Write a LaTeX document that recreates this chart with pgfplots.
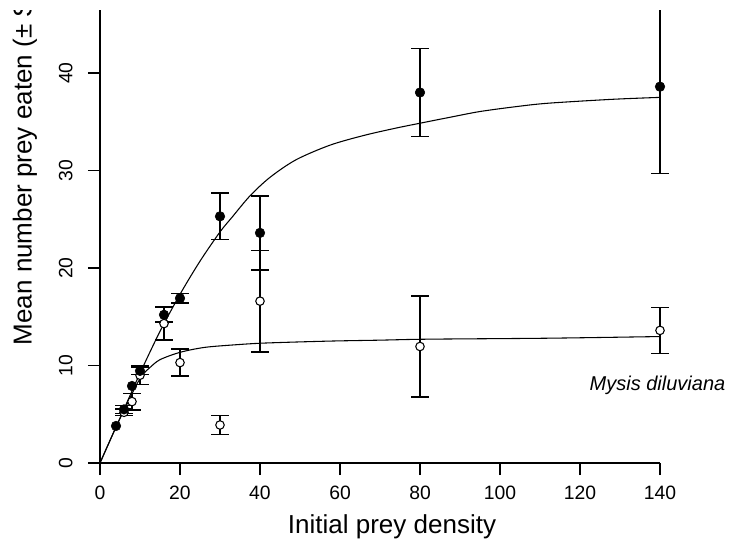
\documentclass[border=0pt]{standalone}
\usepackage{pgfplots}
\pgfplotsset{compat=1.18}
\usepackage{pgfplotstable}
\usepackage{fontspec}
\setmainfont{Liberation Sans}

\pgfplotstableread{
x y e
6 5.5 0.4
10 9.45 0.35
16 15.2 0.75
20 16.9 0.5
30 25.3 2.4
40 23.6 3.8
80 38.0 4.5
140 38.6 8.9
}\filledtab

\pgfplotstableread{
x y
4 3.8
8 7.9
}\filledplain

\pgfplotstableread{
x y e
6 5.2 0.35
8 6.3 0.85
10 9.0 0.95
16 14.3 1.7
20 10.3 1.4
30 3.9 1.0
40 16.6 5.2
80 11.95 5.2
140 13.6 2.35
}\opentab

\begin{document}
\begin{tikzpicture}
\useasboundingbox (-75pt,-60.75pt) rectangle (475.5pt,347.25pt);
\clip (-75pt,-60.75pt) rectangle (475.5pt,339.75pt);
\begin{axis}[
  at={(0pt,0pt)}, anchor=origin,
  x=3pt, y=7.3125pt,
  xmin=0, xmax=140, ymin=0, ymax=48,
  axis lines=left,
  axis line style={-, line width=1.1pt},
  clip=false,
  xtick={0,20,...,140},
  ytick={0,10,...,40},
  tick align=outside,
  major tick length=9pt,
  tick style={line width=1.1pt, black},
  /pgf/number format/assume math mode=true,
  ticklabel style={font=\fontsize{14.5}{17}\selectfont},
  xticklabel style={yshift=-5pt},
  yticklabel style={xshift=-8pt, rotate=90, anchor=south},
]
\addplot[black, smooth, line width=0.8pt, mark=none] coordinates {
(0,0) (5,4.6) (10,9.2) (15,13.5) (20,17.3) (25,20.7) (30,23.7) (33,25.2)
(37.5,27.4) (42.5,29.3) (49,31.1) (57.5,32.6) (66,33.6) (74,34.35) (80,34.85)
(88,35.5) (95,36.05) (104,36.55) (112,36.9) (128,37.3) (140,37.5)};
\addplot[black, smooth, line width=0.8pt, mark=none] coordinates {
(0,0) (4,3.7) (6,5.4) (8,7.1) (9.5,8.3) (11,9.2) (12.5,9.8) (15,10.6) (20,11.35)
(26,11.85) (33,12.1) (41,12.3) (57,12.5) (70,12.6) (82,12.7) (112,12.8) (140,12.97)};
\addplot[only marks, mark=*, mark size=3.2pt, mark options={fill=white, draw=black, line width=0.8pt},
  error bars/.cd, y dir=both, y explicit,
  error bar style={line width=1.1pt, black},
  error mark options={rotate=90, mark size=6.4pt, line width=1.1pt, black}]
  table[x=x, y=y, y error=e] {\opentab};
\addplot[only marks, mark=*, mark size=3.6pt, mark options={fill=black, draw=black},
  error bars/.cd, y dir=both, y explicit,
  error bar style={line width=1.1pt, black},
  error mark options={rotate=90, mark size=6.4pt, line width=1.1pt, black}]
  table[x=x, y=y, y error=e] {\filledtab};
\addplot[only marks, mark=*, mark size=3.6pt, mark options={fill=black, draw=black}]
  table[x=x, y=y] {\filledplain};
\node[font=\fontsize{19.5}{23}\selectfont] at (axis cs:73,-6.56) {Initial prey density};
\node[rotate=90, anchor=west, font=\fontsize{19.5}{23}\selectfont] at (axis cs:-18.75,11.6) {Mean number prey eaten (± SE)};
\node[anchor=east, font=\itshape\fontsize{15}{18}\selectfont] at (axis cs:157.5,8.0) {Mysis diluviana};
\end{axis}
\end{tikzpicture}
\end{document}
